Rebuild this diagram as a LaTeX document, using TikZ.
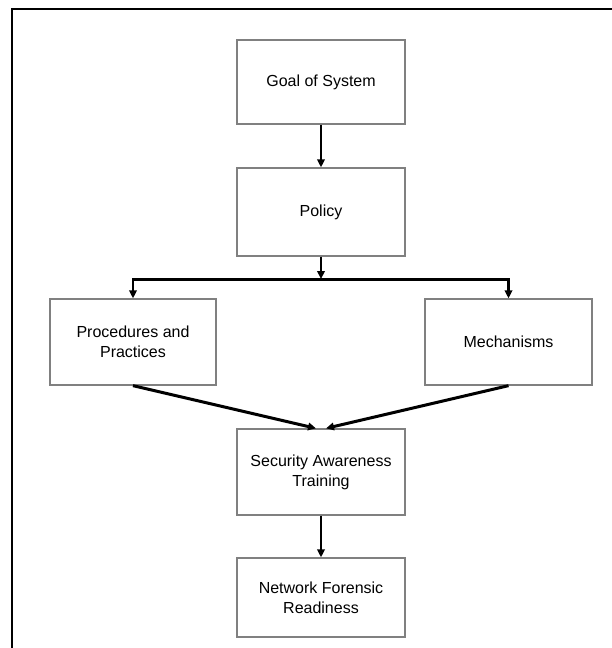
\documentclass[tikz,border=0pt]{standalone}
\usepackage{fontspec}
\setmainfont{Liberation Sans}
\usetikzlibrary{arrows.meta}
\begin{document}
\begin{tikzpicture}[x=1pt,y=-1pt,
  box/.style={draw=black!50,line width=1.3pt,fill=white,align=center,
    minimum width=168pt,inner sep=0pt,
    font=\fontsize{16}{20}\selectfont},
  arr/.style={line width=2.6pt,-{Triangle[length=8pt,width=7.5pt]}},
  frameline/.style={line width=2.6pt,line cap=rect}]
\useasboundingbox (0,0) rectangle (611,648);
% outer frame (top and left edges)
\draw[frameline] (611,9) -- (12,9) -- (12,648);
% boxes
\node[box,minimum height=84pt] (goal) at (321,82) {Goal of System};
\node[box,minimum height=88pt] (policy) at (321,212) {Policy};
\node[box,minimum width=166pt,minimum height=86pt] (proc) at (133,342) {Procedures and\\Practices};
\node[box,minimum width=167pt,minimum height=86pt] (mech) at (508.5,342) {Mechanisms};
\node[box,minimum height=86pt] (sat) at (321,472) {Security Awareness\\Training};
\node[box,minimum height=79pt] (nfr) at (321,597.5) {Network Forensic\\Readiness};
% connectors
\coordinate (split) at (321,279);
\draw[arr] (goal) -- (policy);
\draw[arr] (policy) -- (split);
\draw[line width=3pt] (proc.north |- split) -- (mech.north |- split);
\draw[arr] (split) -| (proc);
\draw[arr] (split) -| (mech);
\draw[arr,line width=3pt] (proc.south) -- ([xshift=-5pt]sat.north);
\draw[arr,line width=3pt] (mech.south) -- ([xshift=5pt]sat.north);
\draw[arr] (sat) -- (nfr);
\end{tikzpicture}
\end{document}
